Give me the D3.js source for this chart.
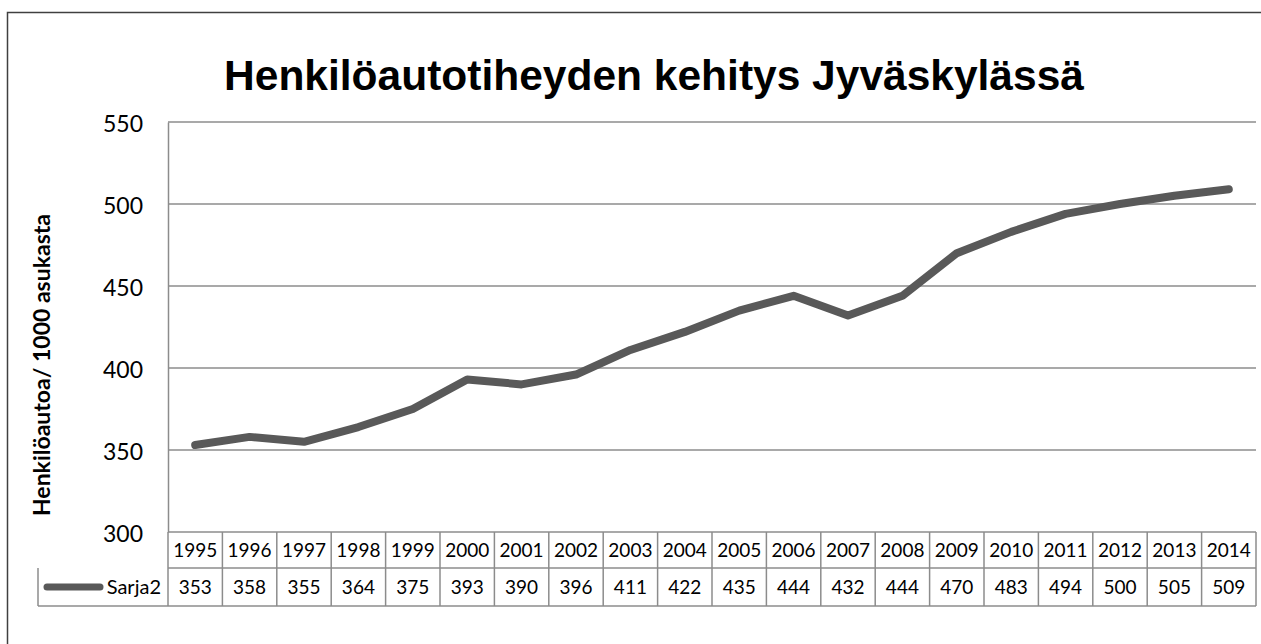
<!DOCTYPE html>
<html>
<head>
<meta charset="utf-8">
<script src="https://cdn.jsdelivr.net/npm/d3@7"></script>
<style>
  body { margin: 0; background: #fff; }
  svg { display: block; }
</style>
</head>
<body>
<div id="chart"></div>
<script>
// data
var years = ["1995","1996","1997","1998","1999","2000","2001","2002","2003","2004",
             "2005","2006","2007","2008","2009","2010","2011","2012","2013","2014"];
var sarja2 = [353, 358, 355, 364, 375, 393, 390, 396, 411, 422,
              435, 444, 432, 444, 470, 483, 494, 500, 505, 509];
var yTicks = [300, 350, 400, 450, 500, 550];
var seriesName = "Sarja2";
var chartTitle = "Henkilöautotiheyden kehitys Jyväskylässä";
var yTitle = "Henkilöautoa/ 1000 asukasta";

var W = 1261, H = 644;
var plot = {left: 168, right: 1256, top: 122, bottom: 532};
var row1 = 568, row2 = 606, keyLeft = 38;
var gridCol = "#8c8c8c", lineCol = "#595959";

var svg = d3.select("#chart").append("svg")
    .attr("width", W)
    .attr("height", H);

// outer chart border
svg.append("rect")
  .attr("x", 7.5).attr("y", 12.5)
  .attr("width", W + 10).attr("height", H + 10)
  .attr("fill", "none")
  .attr("stroke", "#404040")
  .attr("stroke-width", 1.5);

var x = d3.scaleBand()
  .domain(years)
  .range([plot.left, plot.right]);

var y = d3.scaleLinear()
  .domain([300, 550])
  .range([plot.bottom, plot.top]);

// title
svg.append("text")
  .attr("x", 654)
  .attr("y", 90)
  .attr("text-anchor", "middle")
  .style("font-family", "'Liberation Sans', Arial, sans-serif")
  .style("font-weight", "bold")
  .style("font-size", "42.5px")
  .text(chartTitle);

// gridlines
svg.append("g")
  .selectAll("line")
  .data(yTicks)
  .enter().append("line")
    .attr("x1", plot.left).attr("x2", plot.right)
    .attr("y1", function(d) { return y(d); })
    .attr("y2", function(d) { return y(d); })
    .attr("stroke", gridCol)
    .attr("stroke-width", 1.5);

// y axis with tick labels
var yAx = svg.append("g")
  .attr("transform", "translate(" + plot.left + ",0)")
  .call(d3.axisLeft(y).tickValues(yTicks).tickSize(0).tickPadding(25));
yAx.select(".domain")
  .attr("stroke", gridCol)
  .attr("stroke-width", 1.5);
yAx.selectAll("text")
  .style("font-family", "Lato, 'Open Sans', sans-serif")
  .style("font-size", "23px")
  .attr("dy", "0.4em")
  .attr("fill", "#000");

// y axis title
svg.append("text")
  .attr("transform", "translate(50," + 365 + ") rotate(-90)")
  .attr("text-anchor", "middle")
  .style("font-family", "Lato, 'Open Sans', sans-serif")
  .style("font-weight", "bold")
  .style("font-size", "23px")
  .text(yTitle);

// data table
var tbl = svg.append("g")
  .attr("stroke", gridCol)
  .attr("stroke-width", 1.5);
tbl.append("line")
  .attr("x1", plot.left).attr("x2", plot.right)
  .attr("y1", row1).attr("y2", row1);
tbl.append("line")
  .attr("x1", keyLeft).attr("x2", plot.right)
  .attr("y1", row2).attr("y2", row2);
tbl.append("line")
  .attr("x1", keyLeft).attr("x2", keyLeft)
  .attr("y1", row1).attr("y2", row2);
tbl.selectAll(".sep")
  .data(years)
  .enter().append("line")
    .attr("x1", function(d) { return x(d); })
    .attr("x2", function(d) { return x(d); })
    .attr("y1", plot.bottom).attr("y2", row2);
tbl.append("line")
  .attr("x1", plot.right).attr("x2", plot.right)
  .attr("y1", plot.bottom).attr("y2", row2);

svg.append("g")
  .selectAll("text")
  .data(years)
  .enter().append("text")
    .attr("x", function(d) { return x(d) + x.bandwidth() / 2; })
    .attr("y", (plot.bottom + row1) / 2 + 7)
    .attr("text-anchor", "middle")
    .style("font-family", "Lato, 'Open Sans', sans-serif")
    .style("font-size", "19px")
    .text(function(d) { return d; });

svg.append("g")
  .selectAll("text")
  .data(sarja2)
  .enter().append("text")
    .attr("x", function(d, i) { return x(years[i]) + x.bandwidth() / 2; })
    .attr("y", (row1 + row2) / 2 + 7)
    .attr("text-anchor", "middle")
    .style("font-family", "Lato, 'Open Sans', sans-serif")
    .style("font-size", "19px")
    .text(function(d) { return d; });

// legend key in table
svg.append("line")
  .attr("x1", 47).attr("x2", 100)
  .attr("y1", (row1 + row2) / 2).attr("y2", (row1 + row2) / 2)
  .attr("stroke", lineCol)
  .attr("stroke-width", 7)
  .attr("stroke-linecap", "round");
svg.append("text")
  .attr("x", 161)
  .attr("y", (row1 + row2) / 2 + 7)
  .attr("text-anchor", "end")
  .style("font-family", "Lato, 'Open Sans', sans-serif")
  .style("font-size", "20px")
  .text(seriesName);

// the line
svg.append("path")
  .datum(sarja2)
  .attr("fill", "none")
  .attr("stroke", lineCol)
  .attr("stroke-width", 8)
  .attr("stroke-linecap", "round")
  .attr("stroke-linejoin", "round")
  .attr("d", d3.line()
    .x(function(d, i) { return x(years[i]) + x.bandwidth() / 2; })
    .y(function(d) { return y(d); }));
</script>
</body>
</html>
